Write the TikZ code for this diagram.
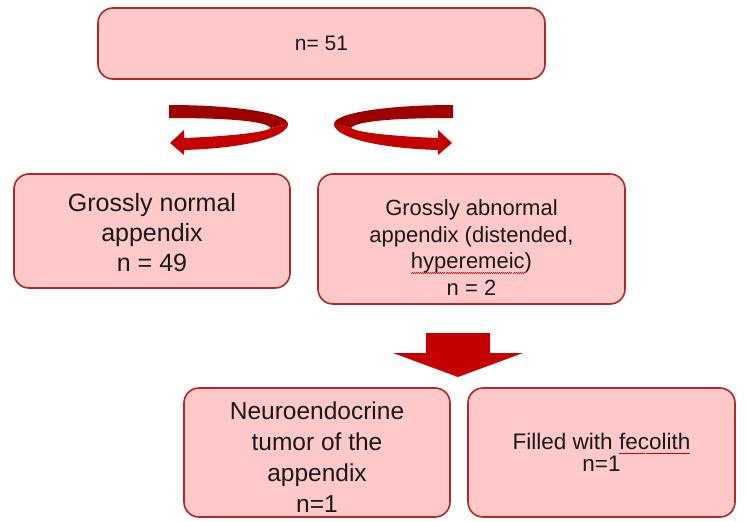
\documentclass[tikz,border=0pt]{standalone}
\usepackage{fontspec}
\setmainfont{Liberation Sans}
\definecolor{boxred}{RGB}{178,40,40}
\definecolor{boxpink}{RGB}{255,201,201}
\definecolor{ribbondark}{RGB}{158,0,0}
\definecolor{ribbonred}{RGB}{196,0,0}
\newsavebox\spellbox
\newcommand\spellmark[1]{\sbox\spellbox{#1}\rlap{\color{red!80!black}\hbox to\wd\spellbox{%
  \xleaders\hbox{\rule[-4.4pt]{1pt}{0.5pt}\rule[-3.7pt]{1pt}{0.5pt}}\hfil}}\usebox\spellbox}
\tikzset{
  % Riquadri del diagramma
  box/.style={draw=boxred,fill=boxpink,line width=1.6pt,rounded corners=15pt,
    align=center,inner sep=0pt,text=black!90},
  box top/.style={box,minimum width=447pt,minimum height=71pt,font=\fontsize{21}{25}\selectfont},
  box mid/.style={box,minimum height=#1},
  box low/.style={box,minimum width=266pt,minimum height=129pt}
}
\begin{document}
\begin{tikzpicture}[x=1pt,y=-1pt]
  \useasboundingbox (0,0) rectangle (750,522);
  \node[box top] (total) at (321.5,43.5) {n= 51};
  \node[box mid=114pt,minimum width=276pt,font=\fontsize{25}{30}\selectfont]
    (normal) at (152,231) {\rule{0pt}{22pt}Grossly normal\\appendix\\n = 49};
  \node[box mid=130pt,minimum width=307pt,font=\fontsize{22}{26.5}\selectfont]
    (abnormal) at (471.5,239) {\rule{0pt}{33pt}Grossly abnormal\\appendix (distended,\\\spellmark{hyperemeic})\\n = 2};
  \node[box low,font=\fontsize{24.5}{31}\selectfont]
    (tumor) at (317,452.5) {\rule{0pt}{26pt}Neuroendocrine\\tumor of the\\appendix\\n=1};
  \node[box low,minimum width=267pt,font=\fontsize{22.5}{22.5}\selectfont]
    (fecolith) at (601.5,452.5) {Filled with \spellmark{fecolith}\\n=1};
  % frecce curve
  \foreach \ox/\sx in {0/1, 622/-1}{
    \begin{scope}[shift={(\ox,0)},xscale=\sx]
      \fill[ribbondark] (169,105) .. controls (235,105) and (288,113) .. (288,124)
        -- (271,128) .. controls (266,121) and (227,118) .. (169,118) -- cycle;
      \fill[ribbonred] (288,124) .. controls (288,136) and (250,148) .. (184,150)
        -- (184,155) -- (170,143) -- (184,130) -- (184,138)
        .. controls (235,136) and (266,132) .. (271,128) -- cycle;
    \end{scope}
  }
  % freccia in basso
  \fill[ribbonred] (426,333) -- (490,333) -- (490,353) -- (523,353) -- (458,377)
    -- (393,353) -- (426,353) -- cycle;
\end{tikzpicture}
\end{document}
